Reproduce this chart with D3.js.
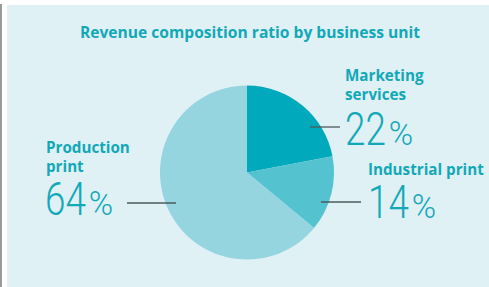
<!DOCTYPE html>
<html>
<head>
<meta charset="utf-8">
<script src="https://cdn.jsdelivr.net/npm/d3@7"></script>
<style>
  html, body { margin: 0; padding: 0; background: #ffffff; }
  svg { display: block; }
</style>
</head>
<body>
<svg id="chart" width="489" height="287"></svg>
<script>
// ---- data ----
const title = "Revenue composition ratio by business unit";
const categories = ["Marketing services", "Industrial print", "Production print"];
const labelLines = [["Marketing", "services"], ["Industrial print"], ["Production", "print"]];
const values = [22, 14, 64];
const colors = ["#00a9bb", "#55c3cf", "#94d5df"];

// ---- layout ----
const W = 489, H = 287;
const cx = 247, cy = 172.5, R = 87;
const textColor = "#12a8b8";
const labelFont = "'Open Sans', Lato, sans-serif";
const numFont = "Roboto, 'Open Sans', sans-serif";

const svg = d3.select("#chart");

// left gray rule and panel
svg.append("rect").attr("x", 0).attr("y", 4).attr("width", 2).attr("height", H - 4).attr("fill", "#9a9a9a");
svg.append("rect").attr("x", 7).attr("y", 5).attr("width", W - 7).attr("height", H - 5).attr("fill", "#dff1f4");

svg.append("text")
  .attr("x", 250).attr("y", 38)
  .attr("text-anchor", "middle")
  .attr("font-family", labelFont)
  .attr("font-weight", 700)
  .attr("font-size", 15.6)
  .attr("fill", textColor)
  .text(title);

const pie = d3.pie().sort(null).value(d => d)(values);
const arc = d3.arc().innerRadius(0).outerRadius(R);

const g = svg.append("g").attr("transform", `translate(${cx},${cy})`);
g.selectAll("path").data(pie).join("path")
  .attr("d", arc)
  .attr("fill", (d, i) => colors[i]);

// label placement (layout only)
const labelLayout = [
  { lx: 345, ly: 81, lh: 18.5, nx: 345, ny: 145, line: [310, 340, 127] },
  { lx: 368, ly: 175, lh: 18.5, nx: 368, ny: 218, line: [321, 361, 202] },
  { lx: 46, ly: 153, lh: 18.5, nx: 45, ny: 215, line: [127, 176, 203] }
];

const numSX = 0.8;

pie.forEach((d, i) => {
  const L = labelLayout[i];
  svg.append("line")
    .attr("x1", L.line[0]).attr("x2", L.line[1])
    .attr("y1", L.line[2]).attr("y2", L.line[2])
    .attr("stroke", "#4d5a5c").attr("stroke-width", 1.3);
  labelLines[i].forEach((t, k) => {
    svg.append("text")
      .attr("x", L.lx).attr("y", L.ly + k * L.lh)
      .attr("font-family", labelFont)
      .attr("font-weight", 700)
      .attr("font-size", 15.2)
      .attr("fill", textColor)
      .text(t);
  });
  const ng = svg.append("g").attr("transform", `translate(${L.nx},${L.ny}) scale(${numSX},1)`);
  const nt = ng.append("text")
    .attr("x", 0).attr("y", 0)
    .attr("font-family", numFont)
    .attr("font-weight", 300)
    .attr("font-size", 46)
    .attr("fill", textColor)
    .text(values[i]);
  const w = nt.node().getComputedTextLength() * numSX;
  svg.append("text")
    .attr("x", L.nx + w + 3).attr("y", L.ny)
    .attr("font-family", numFont)
    .attr("font-weight", 300)
    .attr("font-size", 33)
    .attr("fill", textColor)
    .text("%");
});
</script>
</body>
</html>
